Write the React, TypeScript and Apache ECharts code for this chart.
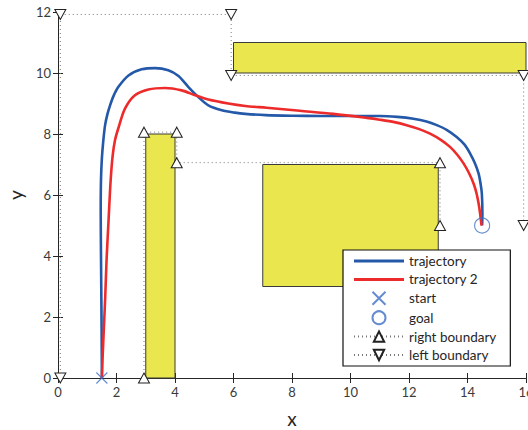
import React, { useEffect, useRef } from "react";
import * as echarts from "echarts";

const trajX = [1.5, 1.49, 1.47, 1.46, 1.47, 1.5, 1.55, 1.61, 1.69, 1.78, 1.9, 2.06, 2.41, 2.86, 3.32, 3.77, 4.12, 4.46, 4.8, 5.14, 5.6, 6.05, 6.4, 7.1, 8.0, 9.0, 10.0, 11.0, 11.6, 12.15, 12.6, 12.95, 13.3, 13.63, 13.9, 14.09, 14.25, 14.38, 14.45, 14.49, 14.51, 14.5];
const trajY = [0, 1.7, 4.0, 5.5, 6.5, 7.2, 7.79, 8.29, 8.65, 8.94, 9.25, 9.54, 9.92, 10.12, 10.16, 10.09, 9.9, 9.54, 9.21, 8.94, 8.78, 8.7, 8.66, 8.62, 8.6, 8.59, 8.59, 8.59, 8.56, 8.5, 8.41, 8.29, 8.13, 7.9, 7.65, 7.36, 7.05, 6.7, 6.35, 6.05, 5.39, 5.0];

const traj2X = [1.5, 1.53, 1.57, 1.62, 1.66, 1.73, 1.8, 1.87, 1.95, 2.06, 2.29, 2.63, 3.09, 3.66, 4.23, 4.69, 5.14, 5.82, 6.4, 7.13, 8.27, 9.41, 10.55, 11.0, 11.5, 11.92, 12.35, 12.72, 13.1, 13.41, 13.65, 13.87, 14.05, 14.21, 14.31, 14.38, 14.43, 14.46, 14.48];
const traj2Y = [0, 0.8, 1.67, 2.8, 3.86, 5.2, 6.48, 7.3, 7.8, 8.18, 8.83, 9.27, 9.46, 9.51, 9.43, 9.27, 9.13, 9.0, 8.92, 8.86, 8.76, 8.66, 8.53, 8.47, 8.39, 8.29, 8.16, 8.01, 7.8, 7.57, 7.32, 7.03, 6.72, 6.37, 6.05, 5.72, 5.4, 5.15, 5.0];

const startPt = [1.5, 0];
const goalPt = [14.5, 5];

const rightBoundX = [2.94, 2.94, 4.06, 4.06, 13.06, 13.06];
const rightBoundY = [0, 8.06, 8.06, 7.06, 7.06, 5];
const leftBoundX = [0.08, 0.08, 5.92, 5.92, 15.92, 15.92];
const leftBoundY = [0, 11.92, 11.92, 9.92, 9.92, 5];

// obstacles: [x0, y0, x1, y1]
const obstacles = [
  [3, 0, 4, 8],
  [7, 3, 13, 7],
  [6, 10, 16, 11],
];

const zip = (xs: number[], ys: number[]) => xs.map((x, i) => [x, ys[i]]);

const FONT = "Lato, 'Open Sans', sans-serif";
const BLUE = "#2458a8";
const RED = "#ee2b2b";
const MARK_BLUE = "#3f6fc4";

export default function App() {
  const ref = useRef<HTMLDivElement>(null);
  useEffect(() => {
    if (!ref.current) return;
    const chart = echarts.init(ref.current, undefined, { renderer: "svg" });
    const axisLine = { show: true, lineStyle: { color: "#262626", width: 1 } };
    const axisTick = { show: true, inside: true, length: 5, lineStyle: { color: "#262626" } };
    const lineIcon = "path://M0,0h50v3h-50z";
    chart.setOption({
      animation: false,
      backgroundColor: "#fff",
      grid: { left: 58, right: 2, top: 12, bottom: 52, containLabel: false, outerBoundsMode: "none" },
      xAxis: [
        {
          type: "value", min: 0, max: 16, interval: 2, position: "bottom",
          axisLine, axisTick, splitLine: { show: false },
          axisLabel: { color: "#3a3a3a", fontSize: 13, fontFamily: FONT, margin: 7 },
          name: "x", nameLocation: "middle", nameGap: 31,
          nameTextStyle: { fontSize: 19, color: "#262626", fontFamily: FONT },
        },
        {
          type: "value", min: 0, max: 16, interval: 2, position: "top",
          axisLine, axisTick, splitLine: { show: false }, axisLabel: { show: false },
        },
      ],
      yAxis: [
        {
          type: "value", min: 0, max: 12, interval: 2, position: "left",
          axisLine, axisTick, splitLine: { show: false },
          axisLabel: { color: "#3a3a3a", fontSize: 13, fontFamily: FONT, margin: 7 },
          name: "y", nameLocation: "middle", nameGap: 29,
          nameTextStyle: { fontSize: 19, color: "#262626", fontFamily: FONT },
        },
        {
          type: "value", min: 0, max: 12, interval: 2, position: "right",
          axisLine, axisTick, splitLine: { show: false }, axisLabel: { show: false },
        },
      ],
      legend: {
        orient: "vertical",
        left: 343,
        top: 250,
        data: [
          { name: "trajectory", icon: lineIcon },
          { name: "trajectory 2", icon: lineIcon },
          "start",
          "goal",
          "right boundary",
          "left boundary",
        ],
        itemWidth: 50,
        itemHeight: 13,
        itemGap: 4.4,
        padding: [4, 14, 4, 10],
        borderColor: "#111",
        borderWidth: 1.2,
        backgroundColor: "#fff",
        textStyle: { fontSize: 13.5, lineHeight: 14, color: "#262626", fontFamily: FONT },
        selectedMode: false,
      },
      series: [
        {
          type: "custom",
          name: "obstacles",
          z: 1,
          data: obstacles,
          renderItem: (params: any, api: any) => {
            const p0 = api.coord([api.value(0), api.value(3)]);
            const p1 = api.coord([api.value(2), api.value(1)]);
            return {
              type: "rect",
              shape: { x: p0[0], y: p0[1], width: p1[0] - p0[0], height: p1[1] - p0[1] },
              style: { fill: "#e9e74d", stroke: "#3a3a3a", lineWidth: 1 },
            };
          },
          encode: { x: [0, 2], y: [1, 3] },
        },
        {
          type: "line",
          name: "right boundary",
          z: 2,
          data: zip(rightBoundX, rightBoundY),
          clip: false,
          symbol: "triangle",
          symbolSize: [11, 10],
          showSymbol: true,
          lineStyle: { color: "#777", width: 1, type: [1, 3] },
          itemStyle: { color: "#fff", borderColor: "#222", borderWidth: 1 },
        },
        {
          type: "line",
          name: "left boundary",
          z: 2,
          data: zip(leftBoundX, leftBoundY),
          clip: false,
          symbol: "triangle",
          symbolRotate: 180,
          symbolSize: [11, 10],
          showSymbol: true,
          lineStyle: { color: "#777", width: 1, type: [1, 3] },
          itemStyle: { color: "#fff", borderColor: "#222", borderWidth: 1 },
        },
        {
          type: "line",
          name: "trajectory",
          z: 3,
          data: zip(trajX, trajY),
          showSymbol: false,
          symbol: "none",
          smooth: 0.3,
          lineStyle: { color: BLUE, width: 2.6 },
          itemStyle: { color: BLUE },
        },
        {
          type: "line",
          name: "trajectory 2",
          z: 3,
          data: zip(traj2X, traj2Y),
          showSymbol: false,
          symbol: "none",
          smooth: 0.3,
          lineStyle: { color: RED, width: 2.6 },
          itemStyle: { color: RED },
        },
        {
          type: "scatter",
          name: "start",
          z: 4,
          data: [startPt],
          clip: false,
          symbol: "path://M0,0L10,10M10,0L0,10",
          symbolSize: 11,
          itemStyle: { color: "rgba(0,0,0,0)", borderColor: MARK_BLUE, borderWidth: 1.1 },
        },
        {
          type: "scatter",
          name: "goal",
          z: 4,
          data: [goalPt],
          clip: false,
          symbol: "circle",
          symbolSize: 15,
          itemStyle: { color: "rgba(0,0,0,0)", borderColor: MARK_BLUE, borderWidth: 1.1 },
        },
      ],
    });
    return () => chart.dispose();
  }, []);
  return <div ref={ref} style={{ width: 528, height: 430, position: "absolute", left: 0, top: 0 }} />;
}
